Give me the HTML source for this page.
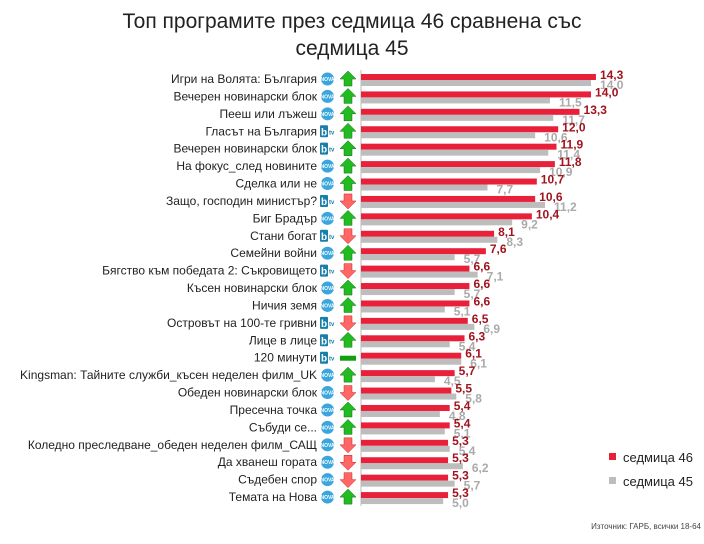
<!DOCTYPE html>
<html><head><meta charset="utf-8"><style>
body{margin:0;background:#fff;width:704px;height:539px;overflow:hidden;font-family:"Liberation Sans",sans-serif;}
</style></head><body>
<svg id="chart" width="704" height="539" xmlns="http://www.w3.org/2000/svg" font-family="Liberation Sans, sans-serif">
<text x="352" y="28" font-size="21" text-anchor="middle" fill="#222">Топ програмите през седмица 46 сравнена със</text>
<text x="352" y="55" font-size="21" text-anchor="middle" fill="#222">седмица 45</text>
<line x1="361" y1="70" x2="361" y2="506" stroke="#bbb" stroke-width="1"/>
<g id="rows"></g>
<rect x="609" y="453" width="7" height="7" fill="#e8203a"/>
<text x="623" y="462" font-size="13" fill="#222">седмица 46</text>
<rect x="609" y="477" width="7" height="7" fill="#bdbdbd"/>
<text x="623" y="486" font-size="13" fill="#222">седмица 45</text>
<text x="701" y="529" font-size="8" text-anchor="end" fill="#444">Източник: ГАРБ, всички 18-64</text>
</svg>
<script>
const categories=["Игри на Волята: България","Вечерен новинарски блок","Пееш или лъжеш","Гласът на България","Вечерен новинарски блок","На фокус_след новините","Сделка или не","Защо, господин министър?","Биг Брадър","Стани богат","Семейни войни","Бягство към победата 2: Съкровището","Късен новинарски блок","Ничия земя","Островът на 100-те гривни","Лице в лице","120 минути","Kingsman: Тайните служби_късен неделен филм_UK","Обеден новинарски блок","Пресечна точка","Събуди се...","Коледно преследване_обеден неделен филм_САЩ","Да хванеш гората","Съдебен спор","Темата на Нова"];
const week46=[14.3,14.0,13.3,12.0,11.9,11.8,10.7,10.6,10.4,8.1,7.6,6.6,6.6,6.6,6.5,6.3,6.1,5.7,5.5,5.4,5.4,5.3,5.3,5.3,5.3];
const week45=[14.0,11.5,11.7,10.6,11.4,10.9,7.7,11.2,9.2,8.3,5.7,7.1,5.7,5.1,6.9,5.4,6.1,4.5,5.8,4.8,5.1,5.4,6.2,5.7,5.0];
const channels=["nova","nova","nova","btv","btv","nova","nova","btv","nova","btv","nova","btv","nova","nova","btv","btv","btv","nova","nova","nova","nova","nova","nova","nova","nova"];
const NS="http://www.w3.org/2000/svg";
const g=document.getElementById('rows');
const x0=361,scale=16.43;
function xs(v){return x0+v*scale;}
function ys(i){return 79+i*17.42;}
function mk(t,a){const e=document.createElementNS(NS,t);for(const k in a)e.setAttribute(k,a[k]);g.appendChild(e);return e;}
function fmt(v){return v.toFixed(1).replace('.',',');}
categories.forEach((c,i)=>{
 const y=ys(i);
 let t=mk('text',{x:317,y:y+4,'font-size':12,'text-anchor':'end',fill:'#222'});t.textContent=c;
 
 
 if(channels[i]==='nova'){
  let e=mk('circle',{cx:327.5,cy:y,r:6.5,fill:'#3aa6dd'});
  
  
  let tt=mk('text',{x:327.5,y:y+2,'font-size':5,'text-anchor':'middle',fill:'#fff','font-weight':'bold'});tt.textContent='NOVA';
  
  
 } else {
  let e=mk('rect',{x:320,y:y-6,width:8,height:12,fill:'#1a7fa8',rx:1});
  
  
  let tt=mk('text',{x:321,y:y+4,'font-size':10,fill:'#fff','font-weight':'bold'});tt.textContent='b';
  
  
  let t2=mk('text',{x:329,y:y+3,'font-size':6,fill:'#1a7fa8','font-weight':'bold'});t2.textContent='tv';
  
  
 }
 const d=week46[i]-week45[i];let a;
 if(Math.abs(d)<0.05){a=mk('rect',{x:340,y:y-2,width:16,height:5,fill:'#12a012'});}
 else if(d>0){a=mk('polygon',{points:`348,${y-8} 356,${y} 352,${y} 352,${y+7} 344,${y+7} 344,${y} 340,${y}`,fill:'#22bb22',stroke:'#107010','stroke-width':0.5});}
 else {a=mk('polygon',{points:`348,${y+8} 356,${y} 352,${y} 352,${y-7} 344,${y-7} 344,${y} 340,${y}`,fill:'#ff6666',stroke:'#cc2222','stroke-width':0.5});}
 
 
 let b1=mk('rect',{x:x0,y:y-5,width:xs(week46[i])-x0,height:6,fill:'#e8203a'});
 
 
 let b2=mk('rect',{x:x0,y:y+1,width:xs(week45[i])-x0,height:6,fill:'#bdbdbd'});
 
 
 let l2=mk('text',{x:xs(week45[i])+9,y:y+10,'font-size':12,'font-weight':'bold',fill:'#aaa'});l2.textContent=fmt(week45[i]);
 
 
 let l1=mk('text',{x:xs(week46[i])+4,y:y,'font-size':12,'font-weight':'bold',fill:'#a0141e'});l1.textContent=fmt(week46[i]);
 
 
});
</script>
</body></html>
